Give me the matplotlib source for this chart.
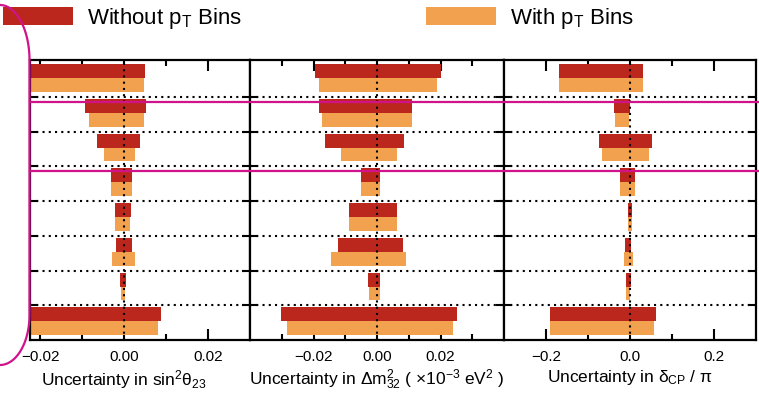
import matplotlib.pyplot as plt
import numpy as np
from matplotlib.lines import Line2D
from matplotlib.ticker import FuncFormatter

plt.rcParams['font.family'] = ['Liberation Sans', 'DejaVu Sans']
plt.rcParams['mathtext.fontset'] = 'custom'
plt.rcParams['mathtext.rm'] = 'Liberation Sans'
plt.rcParams['mathtext.it'] = 'Liberation Sans'
plt.rcParams['mathtext.sf'] = 'Liberation Sans'
plt.rcParams['mathtext.bf'] = 'Liberation Sans:bold'

# uncertainty ranges (low, high) for 8 systematic groups, top to bottom
th23_without_lo = [-0.0230, -0.0092, -0.0064, -0.0030, -0.0022, -0.0018, -0.0010, -0.0230]
th23_without_hi = [0.0050, 0.0053, 0.0039, 0.0020, 0.0016, 0.0018, 0.0004, 0.0089]
th23_with_lo = [-0.0230, -0.0083, -0.0047, -0.0030, -0.0021, -0.0028, -0.0008, -0.0230]
th23_with_hi = [0.0048, 0.0048, 0.0026, 0.0020, 0.0015, 0.0025, 0.00015, 0.0081]

dm32_without_lo = [-0.0195, -0.0184, -0.0164, -0.0051, -0.0089, -0.0123, -0.0027, -0.0303]
dm32_without_hi = [0.0200, 0.0109, 0.0086, 0.0009, 0.0062, 0.0081, 0.0011, 0.0251]
dm32_with_lo = [-0.0184, -0.0174, -0.0114, -0.0051, -0.0088, -0.0144, -0.0026, -0.0284]
dm32_with_hi = [0.0189, 0.0109, 0.0063, 0.0009, 0.0063, 0.0091, 0.0011, 0.0240]

dcp_without_lo = [-0.170, -0.038, -0.073, -0.024, -0.0055, -0.013, -0.0087, -0.191]
dcp_without_hi = [0.032, 0.001, 0.0535, 0.0126, 0.0047, 0.0016, 0.0024, 0.0614]
dcp_with_lo = [-0.170, -0.035, -0.066, -0.024, -0.005, -0.014, -0.0094, -0.191]
dcp_with_hi = [0.032, -0.002, 0.0457, 0.0118, 0.004, 0.008, 0.0008, 0.0575]

legend_labels = ["Without p$_{T}$ Bins", "With p$_{T}$ Bins"]

dark = '#bc271d'
light = '#f2a14f'
magenta = '#d0138a'

W, H = 759, 394
fig = plt.figure(figsize=(W / 100, H / 100), dpi=100)


def fx(px):
    return px / W


def fy(py):
    return 1 - py / H


panels = [
    (th23_without_lo, th23_without_hi, th23_with_lo, th23_with_hi,
     (-0.0225, 0.03), [-0.02, 0, 0.02], [-0.01, 0.01], 2,
     r"Uncertainty in sin$^2\theta_{23}$", (29.5, 250)),
    (dm32_without_lo, dm32_without_hi, dm32_with_lo, dm32_with_hi,
     (-0.04, 0.04), [-0.02, 0, 0.02], [-0.03, -0.01, 0.01, 0.03], 2,
     r"Uncertainty in $\Delta m^2_{32}$ ( $\times10^{-3}$ eV$^2$ )", (250, 504)),
    (dcp_without_lo, dcp_without_hi, dcp_with_lo, dcp_with_hi,
     (-0.3, 0.3), [-0.2, 0, 0.2], [-0.1, 0.1], 1,
     r"Uncertainty in $\delta_{CP}$ / $\pi$", (504, 756)),
]

top_px, bot_px = 60, 340
handles = None
for wo_lo, wo_hi, wi_lo, wi_hi, xlim, majors, minors, ndec, label, (x0, x1) in panels:
    ax = fig.add_axes([fx(x0), fy(bot_px), fx(x1 - x0), (bot_px - top_px) / H])
    n = len(wo_lo)
    rows = np.arange(n)
    wo_lo, wo_hi = np.array(wo_lo), np.array(wo_hi)
    wi_lo, wi_hi = np.array(wi_lo), np.array(wi_hi)
    b1 = ax.barh(rows + 0.06, wo_hi - wo_lo, left=wo_lo, height=0.4,
                 align='edge', color=dark, linewidth=0, zorder=2)
    b2 = ax.barh(rows + 0.46, wi_hi - wi_lo, left=wi_lo, height=0.4,
                 align='edge', color=light, linewidth=0, zorder=2)
    if handles is None:
        handles = [b1, b2]

    # row separators and zero line
    for r in range(1, n):
        ax.axhline(r, color='black', lw=1.5, ls=(0, (1, 2)), zorder=3)
    ax.axvline(0, color='black', lw=1.5, ls=(0, (1, 2)), zorder=3)

    ax.set_xlim(*xlim)
    ax.set_ylim(n, -0.06)
    ax.set_xticks(majors)
    ax.set_xticks(minors, minor=True)
    ax.set_yticks(range(1, n))
    ax.set_yticklabels([])
    ax.xaxis.set_major_formatter(FuncFormatter(
        lambda v, p, d=ndec: f"{v:.{d}f}".replace('-', '\u2212')))
    ax.tick_params(axis='both', which='both', direction='in', width=1.5,
                   top=True, right=True)
    ax.tick_params(axis='x', which='major', length=8, labelsize=11, pad=7)
    ax.tick_params(axis='x', which='minor', length=4.5)
    ax.tick_params(axis='y', which='major', length=6)
    for s in ax.spines.values():
        s.set_linewidth(1.6)
    # label centred under the zero mark
    zero_frac = (0 - xlim[0]) / (xlim[1] - xlim[0])
    ax.set_xlabel(label, fontsize=12.5, labelpad=3, x=zero_frac)

fig.legend(handles, legend_labels, ncol=2, loc='upper left',
           bbox_to_anchor=(fx(3), fy(6)), frameon=False, fontsize=16,
           handlelength=3.15, handleheight=0.86, handletextpad=0.62,
           columnspacing=8.3, borderpad=0, borderaxespad=0)

# magenta highlight lines and bracket
for yline in (102, 171):
    fig.add_artist(Line2D([fx(29.5), fx(W)], [fy(yline), fy(yline)],
                          transform=fig.transFigure, color=magenta, lw=1.6, zorder=10))

t1 = np.linspace(np.pi / 2, 0, 40)
t2 = np.linspace(0, -np.pi / 2, 40)
bx = np.concatenate([29.5 * np.cos(t1), 29.5 * np.cos(t2)])
by = np.concatenate([60 - 55 * np.sin(t1), 315 - 50 * np.sin(t2)])
fig.add_artist(Line2D(fx(bx), fy(by), transform=fig.transFigure,
                      color=magenta, lw=1.6, zorder=10))

fig.savefig('out.png', dpi=100)
